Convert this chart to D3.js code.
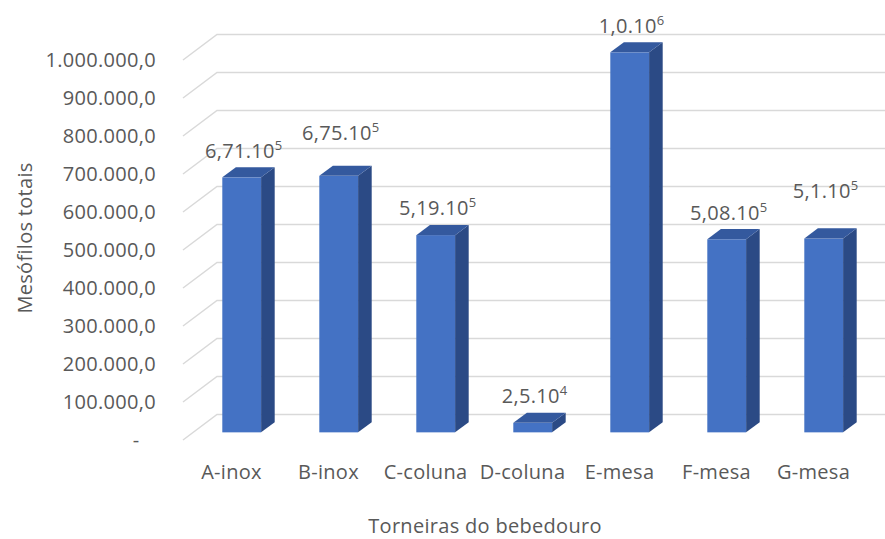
<!DOCTYPE html>
<html>
<head>
<meta charset="utf-8">
<script src="https://cdn.jsdelivr.net/npm/d3@7"></script>
<style>
  html, body { margin: 0; padding: 0; background: #ffffff; }
  svg { display: block; }
  text { font-family: "Open Sans", sans-serif; fill: #595959; letter-spacing: 0.3px; }
</style>
</head>
<body>
<div id="chart"></div>
<script>
// ---------------- DATA ----------------
const categories = ["A-inox", "B-inox", "C-coluna", "D-coluna", "E-mesa", "F-mesa", "G-mesa"];
const values = [671000, 675000, 519000, 25000, 1000000, 508000, 510000];
const labelMantissa = ["6,71.10", "6,75.10", "5,19.10", "2,5.10", "1,0.10", "5,08.10", "5,1.10"];
const labelExponent = ["5", "5", "5", "4", "6", "5", "5"];
const yAxisTitle = "Mesófilos totais";
const xAxisTitle = "Torneiras do bebedouro";

// ---------------- LAYOUT ----------------
const W = 885, H = 539;
const DX = 34, DY = -25.5;          // depth offset of the back wall
const f0 = 0.3, f1 = 0.7;           // bar depth position (fraction of floor depth)
const labelExtraLift = { "B-inox": 16, "G-mesa": 21 };
const FS = "20px";

const svg = d3.select("#chart").append("svg").attr("width", W).attr("height", H);

const x = d3.scaleBand().domain(categories).range([183, 862]).paddingInner(0).paddingOuter(0);
const y = d3.scaleLinear().domain([0, 1000000]).range([440, 60]);
const barW = x.bandwidth() / 2.5;

const loc = d3.formatLocale({ decimal: ",", thousands: ".", grouping: [3], currency: ["R$", ""] });
const fmt = loc.format(",.1f");
const ticks = y.ticks(10);

// gridlines: side wall diagonal + back wall horizontal
svg.append("g").selectAll("path").data(ticks).join("path")
  .attr("d", t => `M${x.range()[0]},${y(t)} L${x.range()[0] + DX},${y(t) + DY} L${W + 10},${y(t) + DY}`)
  .attr("fill", "none").attr("stroke", "#d9d9d9").attr("stroke-width", 1.5);

// y tick labels
svg.append("g").selectAll("text").data(ticks).join("text")
  .attr("x", 156).attr("y", t => y(t) + 7)
  .attr("text-anchor", "end")
  .style("font-size", FS)
  .style("white-space", "pre")
  .text(t => t === 0 ? "-\u00a0\u00a0\u00a0" : fmt(t));

// bars
const ddx = (f1 - f0) * DX, ddy = (f1 - f0) * DY;
const bars = svg.append("g").selectAll("g").data(categories.map((c, i) => ({ c, v: values[i], i }))).join("g");
bars.each(function (d) {
  const g = d3.select(this);
  const xc = x(d.c) + x.bandwidth() / 2;
  const xl = xc - barW / 2 + f0 * DX, xr = xl + barW;
  const yt = y(d.v) + f0 * DY, yb = y(0) + f0 * DY;
  g.append("rect").attr("x", xl).attr("y", yt).attr("width", barW).attr("height", yb - yt).attr("fill", "#4472C4");
  g.append("path").attr("d", `M${xr},${yt} L${xr + ddx},${yt + ddy} L${xr + ddx},${yb + ddy} L${xr},${yb} Z`).attr("fill", "#2B4A85");
  g.append("path").attr("d", `M${xl},${yt} L${xl + ddx},${yt + ddy} L${xr + ddx},${yt + ddy} L${xr},${yt} Z`).attr("fill", "#34599E");
  const lift = labelExtraLift[d.c] || 0;
  const t = g.append("text")
    .attr("x", xl + barW / 2 + 2)
    .attr("y", yt + ddy - 9.5 - lift)
    .attr("text-anchor", "middle")
    .style("font-size", FS);
  t.append("tspan").text(labelMantissa[d.i]);
  t.append("tspan").attr("dy", -8).style("font-size", "13px").text(labelExponent[d.i]);
});

// category labels
svg.append("g").selectAll("text").data(categories).join("text")
  .attr("x", c => x(c) + x.bandwidth() / 2)
  .attr("y", 479)
  .attr("text-anchor", "middle")
  .style("font-size", FS)
  .text(c => c);

// axis titles
svg.append("text").attr("x", 485).attr("y", 533).attr("text-anchor", "middle")
  .style("font-size", FS).text(xAxisTitle);
svg.append("text").attr("transform", "translate(32,238) rotate(-90)").attr("text-anchor", "middle")
  .style("font-size", FS).text(yAxisTitle);
</script>
</body>
</html>
